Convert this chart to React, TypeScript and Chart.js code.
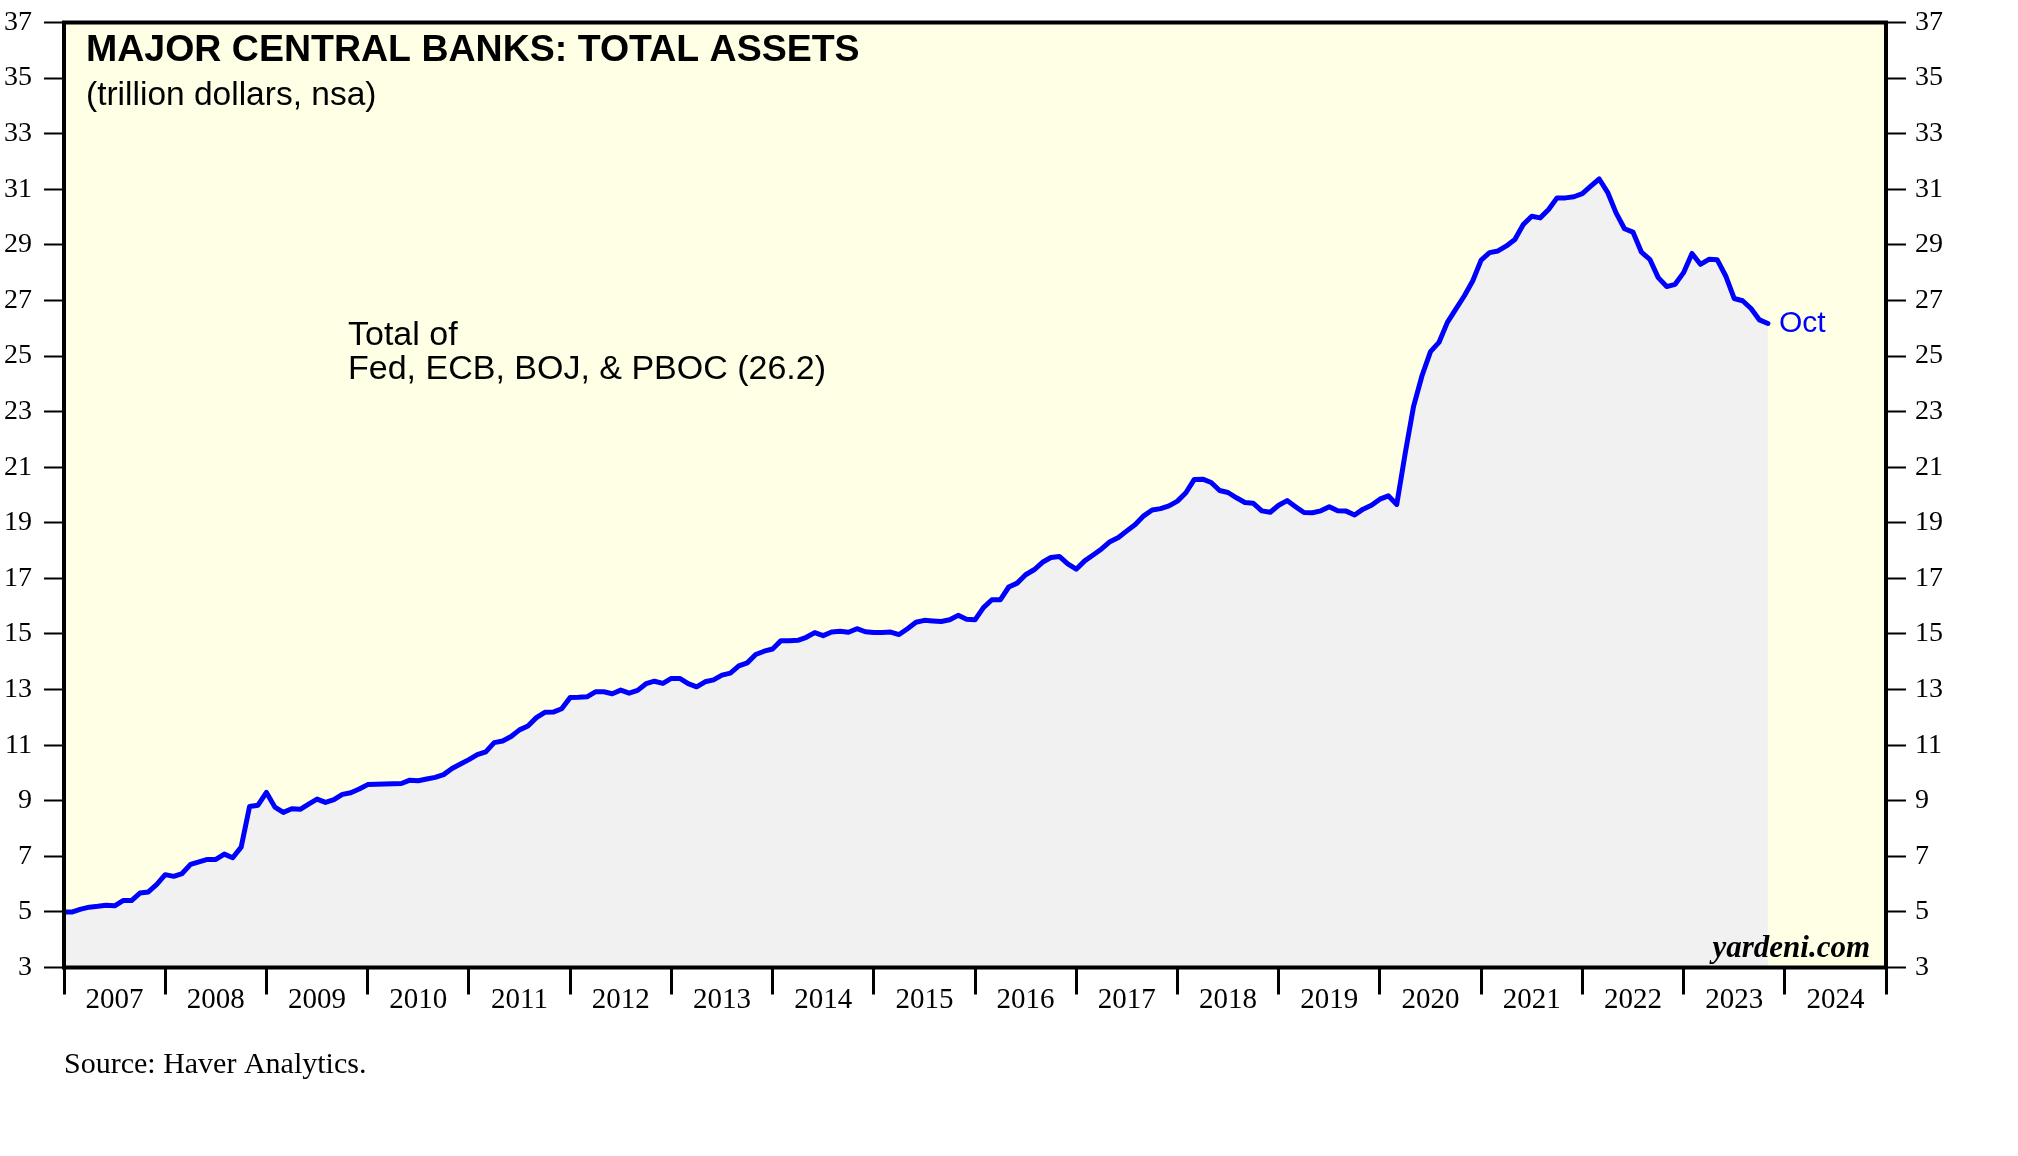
import React, { useEffect, useRef } from 'react';
import { Chart, registerables } from 'chart.js';

Chart.register(...registerables);

// Month-end totals (trillion dollars), Dec 2006 through Oct 2023
const dec2006 = [5.0];
const y2007 = [5.0, 5.1, 5.17, 5.2, 5.24, 5.22, 5.41, 5.41, 5.68, 5.72, 5.99, 6.34];
const y2008 = [6.28, 6.38, 6.71, 6.8, 6.89, 6.89, 7.08, 6.95, 7.33, 8.79, 8.84, 9.3];
const y2009 = [8.77, 8.58, 8.71, 8.69, 8.88, 9.06, 8.94, 9.04, 9.23, 9.29, 9.42, 9.58];
const y2010 = [9.59, 9.6, 9.61, 9.62, 9.74, 9.72, 9.78, 9.84, 9.94, 10.16, 10.32, 10.48];
const y2011 = [10.66, 10.76, 11.09, 11.15, 11.31, 11.55, 11.69, 11.99, 12.18, 12.19, 12.31, 12.71];
const y2012 = [12.72, 12.74, 12.92, 12.92, 12.85, 12.98, 12.87, 12.97, 13.21, 13.3, 13.22, 13.4];
const y2013 = [13.4, 13.21, 13.1, 13.28, 13.35, 13.52, 13.59, 13.85, 13.96, 14.26, 14.38, 14.46];
const y2014 = [14.76, 14.76, 14.77, 14.88, 15.05, 14.94, 15.07, 15.1, 15.06, 15.19, 15.08, 15.05];
const y2015 = [15.05, 15.07, 14.98, 15.19, 15.42, 15.49, 15.47, 15.45, 15.51, 15.67, 15.53, 15.51];
const y2016 = [15.95, 16.23, 16.23, 16.69, 16.83, 17.13, 17.31, 17.58, 17.75, 17.79, 17.52, 17.33];
const y2017 = [17.63, 17.84, 18.06, 18.32, 18.47, 18.71, 18.94, 19.25, 19.46, 19.51, 19.61, 19.78];
const y2018 = [20.08, 20.56, 20.57, 20.45, 20.16, 20.09, 19.9, 19.73, 19.7, 19.43, 19.38, 19.63];
const y2019 = [19.8, 19.58, 19.37, 19.36, 19.43, 19.58, 19.43, 19.42, 19.28, 19.49, 19.63, 19.85];
const y2020 = [19.97, 19.66, 21.5, 23.2, 24.3, 25.16, 25.49, 26.21, 26.69, 27.16, 27.7, 28.45];
const y2021 = [28.72, 28.78, 28.96, 29.19, 29.73, 30.03, 29.97, 30.27, 30.69, 30.69, 30.73, 30.84];
const y2022 = [31.11, 31.37, 30.89, 30.15, 29.58, 29.46, 28.74, 28.48, 27.82, 27.5, 27.58, 28.0];
const y2023 = [28.69, 28.3, 28.48, 28.46, 27.88, 27.07, 26.99, 26.71, 26.3, 26.17];

const yearLabels = [
  '2007', '2008', '2009', '2010', '2011', '2012', '2013', '2014', '2015',
  '2016', '2017', '2018', '2019', '2020', '2021', '2022', '2023', '2024',
];
const yMin = 3;
const yMax = 37;
const yStep = 2;

const titleText = 'MAJOR CENTRAL BANKS: TOTAL ASSETS';
const subtitleText = '(trillion dollars, nsa)';
const noteLines = ['Total of', 'Fed, ECB, BOJ, & PBOC (26.2)'];
const lastLabel = 'Oct';
const siteText = 'yardeni.com';
const sourceText = 'Source: Haver Analytics.';

const assets = [
  ...dec2006, ...y2007, ...y2008, ...y2009, ...y2010, ...y2011, ...y2012, ...y2013,
  ...y2014, ...y2015, ...y2016, ...y2017, ...y2018, ...y2019, ...y2020, ...y2021,
  ...y2022, ...y2023,
];

const SANS = '"Liberation Sans", Arial, Helvetica, sans-serif';
const SERIF = '"Liberation Serif", "Times New Roman", serif';

const decorPlugin = {
  id: 'decor',
  beforeDraw(chart: any) {
    const { ctx, chartArea: a } = chart;
    ctx.save();
    ctx.fillStyle = '#ffffe6';
    ctx.fillRect(a.left, a.top, a.right - a.left, a.bottom - a.top);
    ctx.restore();
  },
  afterDraw(chart: any) {
    const { ctx, chartArea: a, scales } = chart;
    ctx.save();
    ctx.lineWidth = 4;
    ctx.strokeStyle = '#000';
    ctx.strokeRect(a.left, a.top, a.right - a.left, a.bottom - a.top);

    ctx.fillStyle = '#000';
    ctx.textAlign = 'left';
    ctx.textBaseline = 'alphabetic';
    ctx.font = `bold 37.5px ${SANS}`;
    ctx.fillText(titleText, a.left + 22, a.top + 38);
    ctx.font = `33.5px ${SANS}`;
    ctx.fillText(subtitleText, a.left + 22, a.top + 82);

    ctx.font = `34px ${SANS}`;
    ctx.fillText(noteLines[0], a.left + 284, a.top + 322);
    ctx.fillText(noteLines[1], a.left + 284, a.top + 356);

    const last = assets.length - 1;
    const px = scales.x.getPixelForValue(last);
    const py = scales.y.getPixelForValue(assets[last]);
    ctx.fillStyle = '#0000ff';
    ctx.font = `30px ${SANS}`;
    ctx.textBaseline = 'middle';
    ctx.fillText(lastLabel, px + 11, py);

    ctx.fillStyle = '#000';
    ctx.textBaseline = 'alphabetic';
    ctx.textAlign = 'right';
    ctx.font = `italic bold 31px ${SERIF}`;
    ctx.fillText(siteText, a.right - 16, a.bottom - 11);

    ctx.textAlign = 'left';
    ctx.font = `30px ${SERIF}`;
    ctx.fillText(sourceText, a.left, a.bottom + 105);
    ctx.restore();
  },
};

function yAxis(position: 'left' | 'right', width: number) {
  return {
    type: 'linear' as const,
    position,
    min: yMin,
    max: yMax,
    afterFit: (s: any) => {
      s.width = width;
      s.paddingTop = 0;
      s.paddingBottom = 0;
    },
    ticks: {
      stepSize: yStep,
      color: '#000',
      padding: position === 'left' ? 12 : 9,
      font: { family: SERIF, size: 28 },
    },
    grid: {
      drawOnChartArea: false,
      drawTicks: true,
      tickLength: 20,
      tickWidth: 2,
      tickColor: '#000',
    },
    border: { display: false },
  };
}

export default function App() {
  const ref = useRef<HTMLCanvasElement | null>(null);

  useEffect(() => {
    if (!ref.current) return;
    const chart = new Chart(ref.current, {
      type: 'line',
      data: {
        datasets: [
          {
            data: assets.map((v, i) => ({ x: i, y: v })),
            borderColor: '#0000ff',
            borderWidth: 5,
            backgroundColor: '#f1f1f1',
            fill: 'start',
            pointRadius: 0,
            tension: 0,
            borderJoinStyle: 'round',
            borderCapStyle: 'round',
          },
        ],
      },
      options: {
        animation: false,
        responsive: false,
        devicePixelRatio: 1,
        layout: { padding: { top: 22.5, left: 0, right: 0, bottom: 0 } },
        plugins: { legend: { display: false }, tooltip: { enabled: false } },
        scales: {
          x: {
            type: 'linear',
            min: 0,
            max: yearLabels.length * 12,
            afterFit: (s: any) => {
              s.height = 188.5;
            },
            afterBuildTicks: (s: any) => {
              s.ticks = yearLabels.map((_, i) => ({ value: i * 12 + 6 }));
            },
            ticks: {
              autoSkip: false,
              maxRotation: 0,
              minRotation: 0,
              padding: -12,
              color: '#000',
              font: { family: SERIF, size: 29 },
              callback: (_v: any, i: number) => yearLabels[i],
            },
            grid: {
              offset: true,
              drawOnChartArea: false,
              drawTicks: true,
              tickLength: 27,
              tickWidth: 3,
              tickColor: '#000',
            },
            border: { display: false },
          },
          y: yAxis('left', 64),
          y2: yAxis('right', 132),
        },
      } as any,
      plugins: [decorPlugin],
    });
    return () => chart.destroy();
  }, []);

  return (
    <div style={{ position: 'absolute', left: 0, top: 0, width: 2018, height: 1156, background: '#fff' }}>
      <canvas ref={ref} width={2018} height={1156} style={{ width: 2018, height: 1156 }} />
    </div>
  );
}
